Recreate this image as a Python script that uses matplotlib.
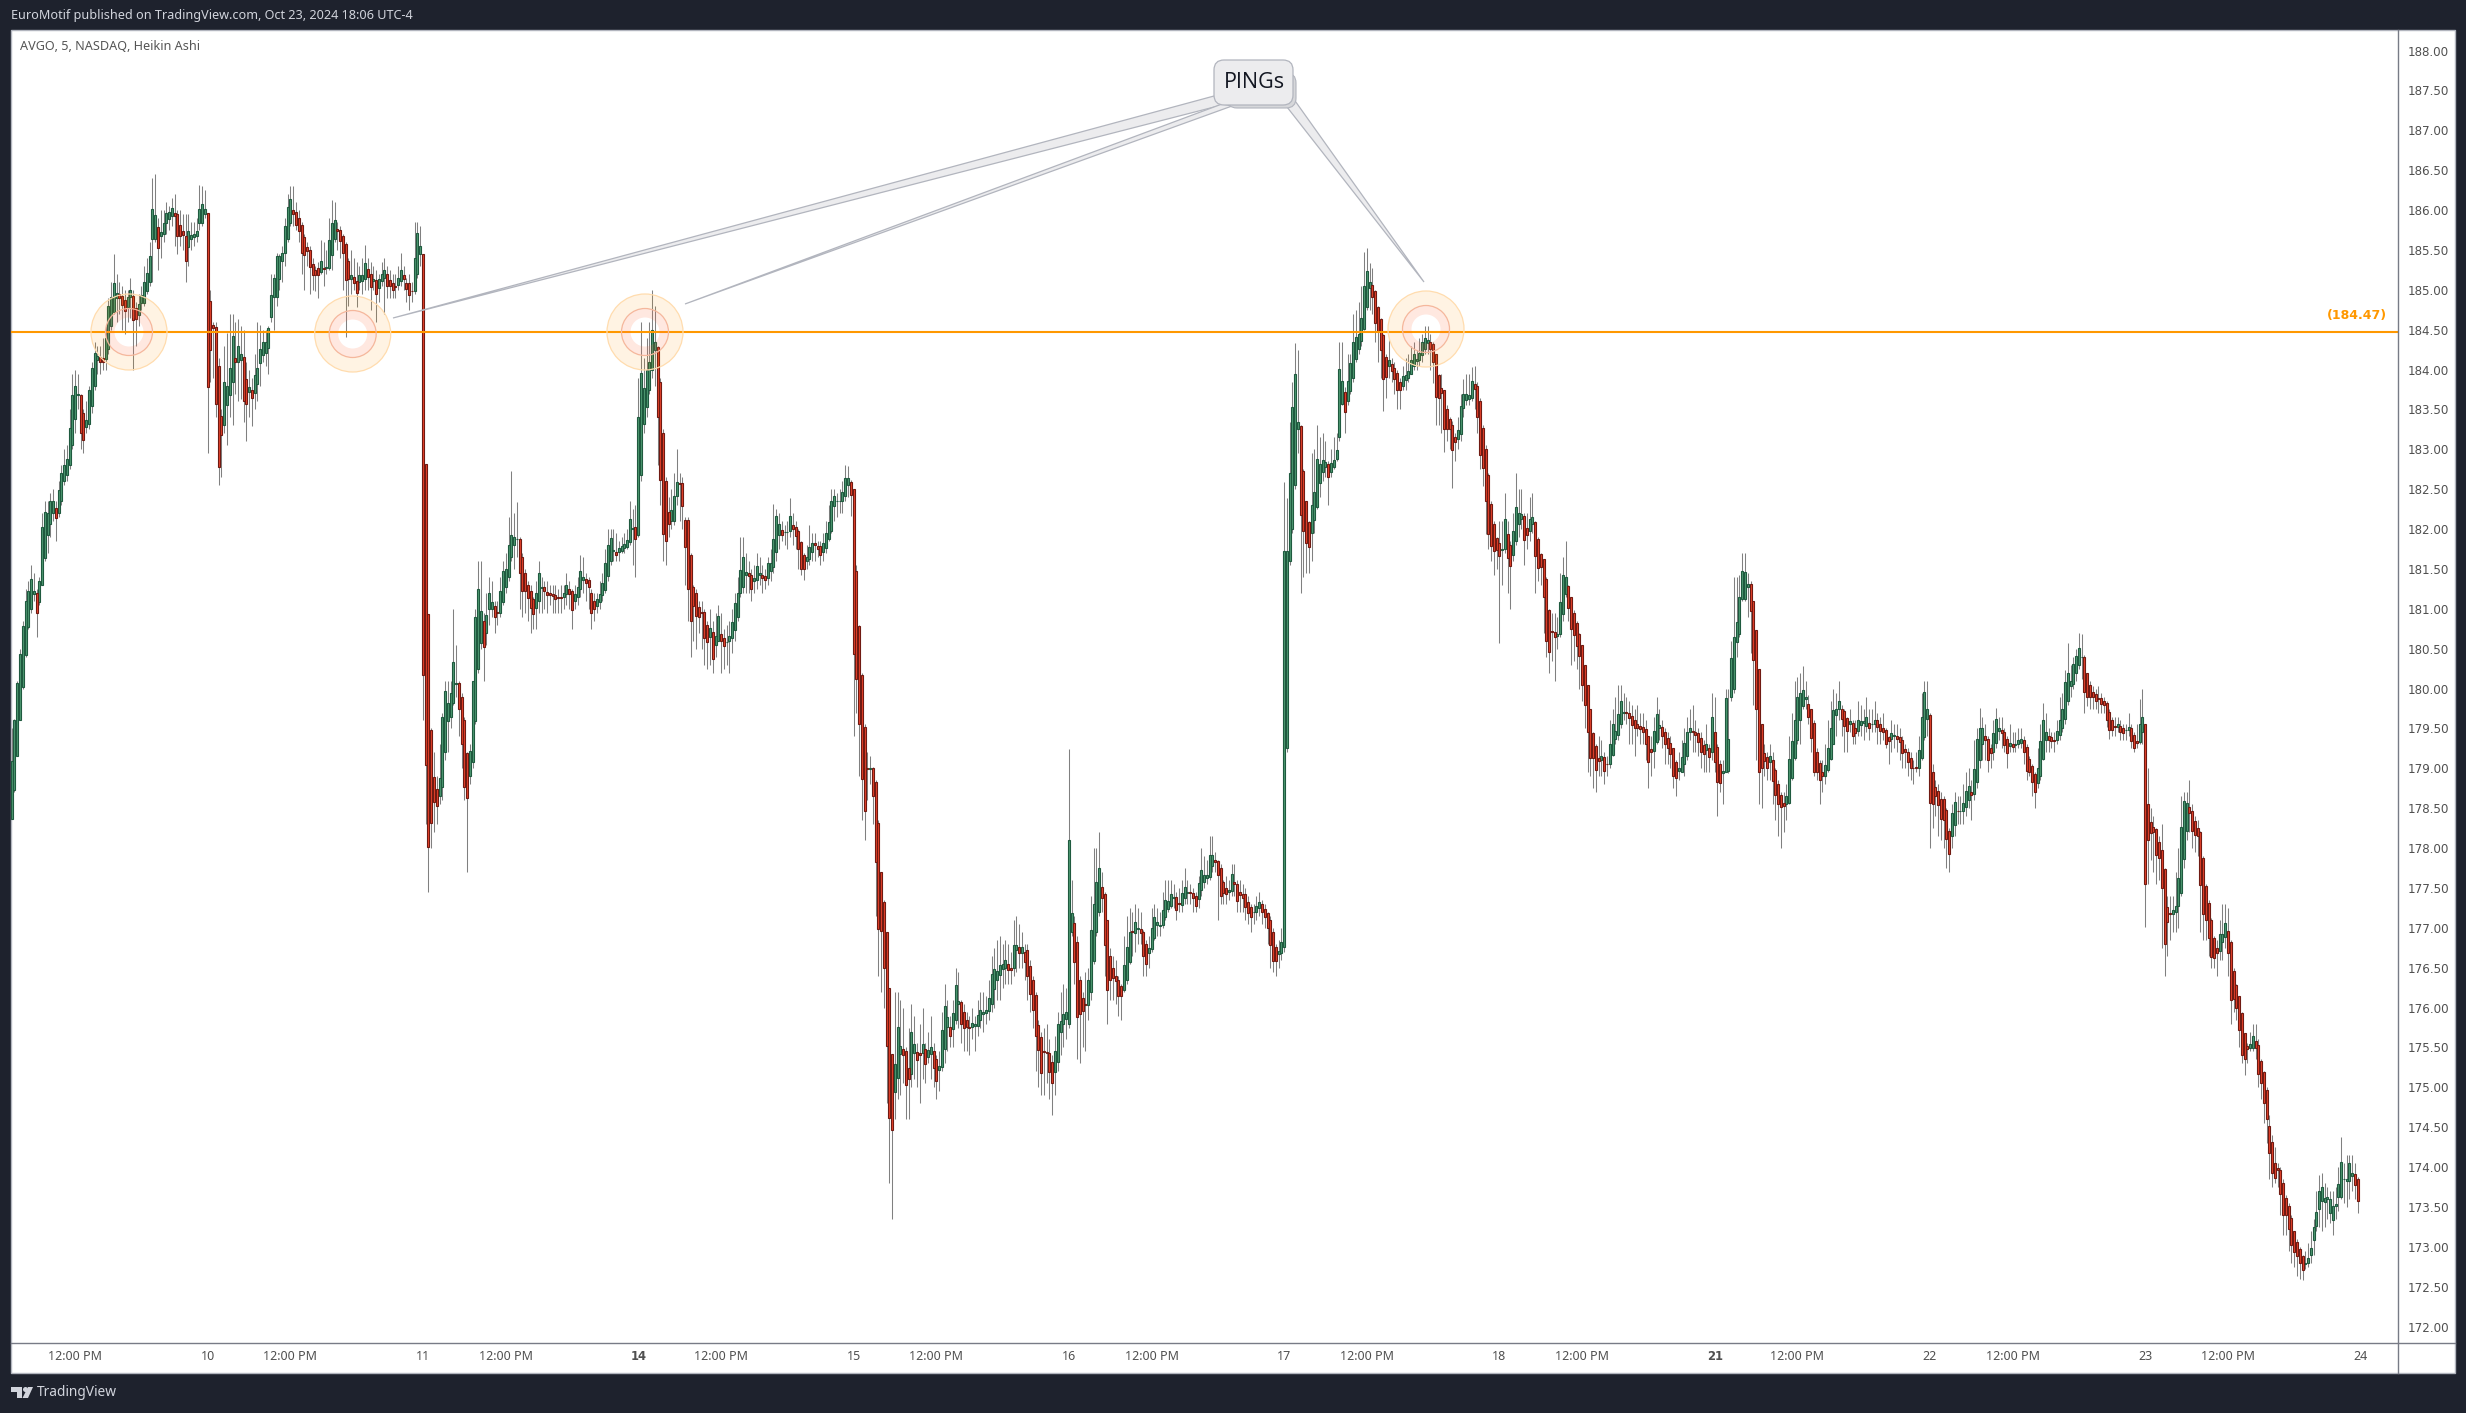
import numpy as np
import matplotlib
matplotlib.use('Agg')
import matplotlib.pyplot as plt
from matplotlib.patches import Circle, FancyBboxPatch, Polygon, Rectangle, Wedge

oct09 = [
    (178.36,179.09,179.51,178.36),(178.73,179.6,179.62,178.7),(179.16,180.07,180.1,179.15),(179.6,180.44,180.5,179.6),
    (180.02,180.79,180.85,180.0),(180.42,181.1,181.25,180.4),(180.77,181.23,181.35,180.75),(181.0,181.38,181.55,180.95),
    (181.19,181.23,181.45,181.1),(181.2,180.95,181.25,180.65),(181.08,181.35,181.4,181.05),(181.3,182.03,182.2,181.3),
    (181.64,182.21,182.35,181.6),(181.92,182.2,182.35,181.7),(182.07,182.35,182.45,181.9),(182.2,182.35,182.5,182.1),
    (182.27,182.14,182.35,181.85),(182.2,182.49,182.6,182.15),(182.35,182.7,182.8,182.3),(182.6,182.8,183.0,182.55),
    (182.68,182.88,183.05,182.6),(182.8,183.27,183.5,182.75),(183.05,183.68,183.95,183.0),(183.38,183.79,184.0,183.2),
    (183.68,183.7,183.95,183.5),(183.68,183.2,183.7,183.0),(183.45,183.12,183.5,182.95),(183.28,183.37,183.6,183.2),
    (183.32,183.74,183.8,183.25),(183.54,184.02,184.1,183.45),(183.8,184.21,184.35,183.75),(184.12,184.17,184.3,183.95),
    (184.16,184.1,184.3,183.95),(184.14,184.1,184.4,184.0),(184.13,184.39,184.55,184.0),(184.26,184.8,184.9,184.2),
    (184.55,184.91,185.1,184.5),(184.72,185.08,185.45,184.7),(184.9,184.96,185.2,184.6),(184.95,184.9,185.1,184.7),
    (184.92,184.81,185.05,184.5),(184.87,184.73,185.0,184.45),(184.79,184.91,185.0,184.6),(184.91,185.0,185.15,184.65),
    (184.92,184.62,185.0,183.99),(184.77,184.63,184.85,184.3),(184.69,184.82,184.95,184.55),(184.83,184.94,185.05,184.75),
    (184.83,185.1,185.3,184.8),(184.98,185.21,185.4,184.95),(185.1,185.43,185.6,185.05),(185.64,186.02,186.4,185.1),
    (185.64,185.94,186.45,185.6),(185.79,185.53,185.9,185.25),(185.67,185.72,186.0,185.4),(185.7,185.84,186.0,185.6),
    (185.84,185.96,186.1,185.7),(185.89,185.98,186.05,185.75),(185.92,186.03,186.15,185.8),(185.96,185.92,186.2,185.55),
    (185.95,185.67,186.0,185.45),(185.81,185.68,186.0,185.55),(185.74,185.69,185.95,185.5),(185.67,185.36,185.95,185.1),
    (185.54,185.74,185.95,185.3),(185.64,185.69,185.85,185.5),(185.66,185.7,185.85,185.55),(185.68,185.74,185.9,185.6),
    (185.84,186.02,186.32,185.75),(185.84,186.08,186.3,185.8),(185.95,186.02,186.25,185.9),
]
oct10 = [
    (185.96,183.78,185.96,182.95),(184.86,184.25,185.0,183.85),(184.56,184.52,184.6,183.9),(184.54,183.57,184.6,183.4),
    (184.04,182.78,184.15,182.55),(183.42,183.18,183.5,182.65),(183.3,183.85,184.3,183.2),(183.56,183.79,184.46,183.05),
    (183.68,184.02,184.7,183.4),(183.84,184.42,184.7,183.3),(184.14,184.09,184.6,183.7),(184.1,184.3,184.63,183.6),
    (184.12,184.2,184.55,183.63),(184.16,183.61,184.5,183.34),(183.88,183.57,184.1,183.1),(183.72,183.78,184.0,183.4),
    (183.75,183.65,183.9,183.29),(183.71,183.93,184.2,183.5),(183.82,184.02,184.6,183.6),(184.08,184.26,184.56,183.8),
    (184.18,184.34,184.5,184.1),(184.21,184.35,184.5,184.05),(184.27,184.52,184.55,183.95),(184.66,184.93,185.2,184.6),
    (184.91,185.15,185.2,184.5),(184.91,185.43,185.46,184.8),(185.14,185.43,185.45,185.0),(185.36,185.46,185.55,185.1),
    (185.46,185.8,185.9,185.3),(185.64,186.04,186.2,185.6),(185.84,186.14,186.3,185.8),(186.0,185.95,186.3,185.8),
    (185.98,185.81,186.1,185.75),(185.9,185.74,186.0,185.6),(185.81,185.46,185.85,185.2),(185.66,185.44,185.7,185.0),
    (185.54,185.49,185.6,185.3),(185.5,185.29,185.55,184.95),(185.33,185.18,185.4,185.0),(185.25,185.18,185.3,184.98),
    (185.28,185.19,185.35,184.9),(185.22,185.36,185.62,185.2),(185.28,185.26,185.6,185.05),(185.27,185.29,185.5,185.2),
    (185.28,185.62,185.9,185.25),(185.44,185.84,186.13,185.25),(185.64,185.88,186.1,185.6),(185.76,185.74,185.85,185.5),
    (185.75,185.61,185.8,185.4),(185.67,185.46,185.7,185.0),(185.57,185.12,185.6,184.41),(185.36,185.14,185.4,184.8),
    (185.14,185.19,185.5,184.95),(185.16,185.08,185.4,185.0),(185.11,184.96,185.35,184.78),(185.1,185.18,185.3,185.0),
    (185.11,185.19,185.4,184.95),(185.14,185.34,185.56,185.0),(185.26,185.16,185.4,185.0),(185.2,185.04,185.35,184.75),
    (185.11,185.14,185.3,185.0),(185.12,184.95,185.25,184.6),(185.02,185.14,185.2,184.85),(185.11,185.2,185.35,185.05),
    (185.15,185.25,185.4,184.7),(185.2,185.05,185.3,184.9),(185.12,185.05,185.25,184.9),(185.09,185.0,185.2,184.9),
    (185.05,185.03,185.2,184.9),(185.06,185.15,185.3,185.0),(185.11,185.25,185.46,185.05),(185.18,185.14,185.3,185.0),
    (185.09,185.01,185.15,184.85),(185.09,184.93,185.2,184.75),(184.99,184.98,185.1,184.85),(184.99,185.4,185.85,184.95),
    (185.2,185.71,185.85,185.15),(185.45,185.55,185.8,185.3),
]
oct11 = [
    (185.45,180.17,185.45,179.6),(182.82,179.04,182.82,178.3),(180.93,178.02,180.93,177.45),(179.48,178.31,179.5,178.0),
    (178.89,178.58,179.2,178.2),(178.74,178.53,178.9,178.3),(178.65,178.88,179.3,178.55),(178.77,179.64,179.7,178.6),
    (179.2,179.97,180.1,179.1),(179.59,179.82,180.1,179.2),(179.64,179.95,180.1,179.5),(179.82,180.33,181.0,179.8),
    (180.06,180.07,180.55,179.9),(180.07,179.75,180.1,179.4),(179.9,179.3,179.95,179.0),(179.6,178.77,179.65,178.6),
    (179.19,178.63,179.2,177.7),(178.9,179.22,179.3,178.8),(179.08,180.1,180.1,179.0),(179.59,180.9,181.0,179.55),
    (180.24,181.25,181.6,180.2),(180.57,180.97,181.6,180.5),(180.85,180.52,180.95,180.1),(180.7,180.92,181.2,180.55),
    (181.0,181.2,181.4,180.8),(181.0,181.08,181.35,180.9),(181.04,180.9,181.1,180.7),(180.96,180.95,181.1,180.8),
    (180.95,181.23,181.4,180.9),(181.08,181.48,181.6,181.05),(181.27,181.5,181.7,181.2),(181.4,181.8,182.15,181.35),
    (181.65,181.92,182.73,181.6),(181.8,181.9,182.2,181.5),(181.87,181.88,182.34,181.65),(181.87,181.45,181.9,181.0),
    (181.65,181.23,181.7,180.9),(181.45,181.23,181.5,180.95),(181.3,181.14,181.35,180.85),(181.23,181.01,181.3,180.7),
    (181.12,180.94,181.15,180.75),(181.01,181.2,181.35,180.75),(181.1,181.45,181.6,180.95),(181.26,181.28,181.4,180.95),
    (181.28,181.23,181.35,181.0),(181.21,181.17,181.35,180.95),(181.2,181.17,181.3,181.05),(181.19,181.16,181.3,180.95),
    (181.17,181.12,181.3,180.95),(181.15,181.14,181.25,180.95),(181.15,181.13,181.3,180.95),(181.15,181.2,181.3,181.0),
    (181.19,181.3,181.45,181.05),(181.25,181.19,181.35,181.0),(181.22,180.99,181.25,180.75),(181.1,181.18,181.3,181.0),
    (181.15,181.27,181.4,181.05),(181.25,181.47,181.67,181.15),(181.36,181.4,181.65,181.2),(181.38,181.32,181.45,181.1),
    (181.36,181.27,181.4,181.0),(181.2,180.95,181.25,180.75),(181.1,181.0,181.2,180.85),(181.04,181.12,181.2,180.95),
    (181.08,181.18,181.35,181.0),(181.17,181.33,181.45,181.1),(181.24,181.57,181.75,181.2),(181.41,181.8,182.0,181.35),
    (181.6,181.89,182.0,181.55),(181.73,181.74,182.0,181.6),(181.71,181.67,181.95,181.6),(181.71,181.76,181.85,181.6),
    (181.73,181.79,181.9,181.7),(181.76,181.81,181.95,181.7),(181.78,181.86,182.0,181.75),(181.84,182.13,182.35,181.8),
    (182.0,182.02,182.25,181.55),(182.03,181.88,182.3,181.4),
]
oct14 = [
    (181.93,183.41,183.9,181.9),(182.68,183.96,184.6,182.6),(183.32,183.77,184.15,183.2),(183.53,184.0,184.4,183.4),
    (183.75,184.1,184.6,183.7),(184.0,184.5,185.0,183.9),(184.25,184.34,184.8,183.8),(184.28,183.41,184.3,182.8),
    (183.85,182.62,183.9,182.3),(183.2,181.94,183.25,181.6),(182.6,181.85,182.65,181.55),(182.22,182.06,182.4,181.9),
    (182.1,182.24,182.5,182.0),(182.1,182.42,182.7,182.05),(182.42,182.59,183.0,182.3),(182.58,182.57,182.7,182.1),
    (182.58,182.29,182.65,182.0),(182.12,181.78,182.15,181.3),(182.12,181.25,182.15,180.85),(181.68,180.85,181.7,180.4),
    (181.28,181.04,181.3,180.6),(181.2,180.91,181.25,180.5),(181.02,180.9,181.1,180.7),(180.96,180.95,181.1,180.5),
    (180.96,180.63,181.0,180.3),(180.8,180.58,180.85,180.25),(180.65,180.76,181.0,180.3),(180.71,180.37,180.85,180.2),
    (180.55,180.66,180.95,180.4),(180.6,180.91,181.05,180.6),(180.68,180.6,180.95,180.2),(180.64,180.53,180.75,180.25),
    (180.58,180.58,180.8,180.3),(180.6,180.66,180.85,180.2),(180.64,180.83,181.0,180.45),(180.74,181.07,181.2,180.6),
    (180.9,181.2,181.4,180.85),(181.2,181.49,181.9,181.15),(181.27,181.65,181.9,181.2),(181.43,181.46,181.7,181.2),
    (181.45,181.41,181.6,181.2),(181.43,181.25,181.5,181.1),(181.35,181.39,181.55,181.2),(181.36,181.54,181.7,181.25),
    (181.43,181.45,181.65,181.3),(181.43,181.39,181.55,181.2),(181.41,181.36,181.5,181.25),(181.39,181.57,181.65,181.3),
    (181.47,181.57,181.75,181.35),(181.52,181.87,182.32,181.45),(181.71,182.16,182.25,181.6),(181.93,182.07,182.2,181.75),
    (181.99,181.93,182.1,181.85),(181.96,181.96,182.05,181.8),(181.96,181.96,182.1,181.75),(181.97,182.16,182.39,181.9),
    (182.05,182.0,182.2,181.8),(182.03,181.91,182.1,181.75),(181.97,181.75,182.0,181.5),(181.84,181.5,181.85,181.43),
    (181.67,181.5,181.7,181.36),(181.6,181.65,181.8,181.5),(181.62,181.78,182.05,181.55),(181.71,181.82,181.95,181.6),
    (181.82,181.8,181.95,181.6),(181.79,181.75,181.85,181.65),(181.79,181.68,181.85,181.55),(181.71,181.82,181.95,181.6),
    (181.76,181.95,182.1,181.7),(181.87,182.09,182.3,181.85),(181.97,182.35,182.5,181.95),(182.29,182.42,182.5,182.1),
    (182.35,182.35,182.45,182.15),(182.35,182.35,182.5,182.2),(182.35,182.46,182.6,182.2),(182.41,182.64,182.8,182.35),
    (182.55,182.64,182.79,182.4),(182.59,182.43,182.62,182.16),
]
oct15 = [
    (182.5,180.44,182.5,179.4),(181.47,180.12,181.55,179.7),(180.79,179.55,180.8,178.9),(180.17,178.87,180.2,178.35),
    (179.52,178.47,179.55,178.1),(179.0,178.99,179.2,178.6),(178.99,179.0,179.15,178.8),(179.0,178.65,179.02,178.3),
    (178.83,177.82,178.85,177.15),(178.32,176.99,178.35,176.4),(177.7,176.96,177.7,176.2),(177.32,176.5,177.35,176.0),
    (176.95,175.52,176.95,174.8),(176.24,174.62,176.25,173.8),(175.42,174.46,175.42,173.35),(174.94,175.29,176.2,174.6),
    (175.12,175.76,176.2,174.85),(175.42,175.52,176.1,174.9),(175.48,175.4,176.0,175.05),(175.45,175.03,175.5,174.6),
    (175.24,175.1,175.75,174.6),(175.17,175.69,176.05,175.0),(175.43,175.54,175.9,175.1),(175.44,175.34,175.55,175.0),
    (175.43,175.41,175.8,174.8),(175.43,175.54,176.0,175.1),(175.48,175.29,175.55,175.05),(175.38,175.47,175.7,175.3),
    (175.42,175.5,175.9,175.1),(175.46,175.24,175.55,175.0),(175.35,175.08,175.4,174.85),(175.22,175.27,175.45,174.95),
    (175.25,175.72,175.95,175.2),(175.48,176.02,176.3,175.3),(175.76,175.88,176.1,175.45),(175.76,175.64,175.9,175.5),
    (175.73,175.93,176.1,175.5),(175.85,176.28,176.5,175.8),(176.05,176.08,176.45,175.75),(176.07,175.79,176.1,175.55),
    (175.94,175.75,176.05,175.45),(175.85,175.76,175.95,175.45),(175.76,175.75,175.9,175.4),(175.76,175.81,176.0,175.6),
    (175.77,175.79,175.9,175.45),(175.77,175.91,176.1,175.65),(175.85,175.97,176.2,175.75),(175.92,175.94,176.2,175.7),
    (175.93,175.97,176.15,175.8),(175.96,176.12,176.35,175.85),(176.04,176.42,176.65,175.95),(176.23,176.48,176.75,176.0),
    (176.35,176.46,176.85,176.1),(176.41,176.54,176.9,176.1),(176.48,176.55,176.8,176.25),(176.5,176.6,176.85,176.3),
    (176.55,176.47,176.8,176.3),(176.5,176.47,176.7,176.3),(176.5,176.79,177.1,176.4),(176.72,176.79,177.15,176.45),
    (176.76,176.68,177.05,176.5),(176.68,176.76,176.95,176.5),(176.7,176.57,176.8,176.35),(176.72,176.39,176.8,176.1),
    (176.52,176.17,176.6,175.95),(176.34,175.97,176.4,175.75),(176.16,175.64,176.2,175.2),(175.78,175.47,175.85,175.0),
    (175.63,175.18,175.7,174.9),(175.45,175.44,175.75,174.9),(175.44,175.43,175.8,175.05),(175.43,175.19,175.6,174.85),
    (175.32,175.05,175.4,174.65),(175.19,175.46,175.65,174.9),(175.32,175.8,175.95,175.2),(175.69,175.83,176.2,175.4),
    (175.8,175.92,176.3,175.5),(175.86,175.95,176.25,175.6),
]
oct16 = [
    (175.8,178.1,179.24,175.75),(176.95,177.18,177.6,176.9),(177.06,176.57,177.15,176.3),(176.82,175.88,176.9,175.35),
    (176.34,175.92,176.4,175.3),(176.12,175.96,176.2,175.5),(176.04,176.03,176.45,175.45),(176.03,176.34,176.5,175.85),
    (176.2,176.97,177.4,176.1),(176.59,177.3,178.0,176.55),(176.95,177.57,178.0,176.9),(177.2,177.75,178.2,177.15),
    (177.51,177.37,177.7,177.2),(177.43,176.78,177.45,176.4),(177.1,176.22,177.1,175.8),(176.65,176.35,176.75,176.1),
    (176.5,176.37,176.65,176.1),(176.4,176.33,176.6,176.05),(176.35,176.15,176.4,175.9),(176.27,176.15,176.3,175.85),
    (176.22,176.53,176.9,176.2),(176.35,176.76,177.15,176.3),(176.57,176.95,177.25,176.55),(176.96,176.95,177.2,176.65),
    (176.93,177.07,177.3,176.7),(176.99,177.0,177.25,176.8),(176.98,176.93,177.2,176.8),(176.95,176.65,176.97,176.4),
    (176.8,176.55,176.85,176.4),(176.68,176.75,176.9,176.5),(176.73,177.0,177.25,176.7),(176.87,177.14,177.3,176.85),
    (177.03,177.07,177.25,176.9),(177.02,177.03,177.2,176.9),(177.03,177.23,177.45,177.0),(177.14,177.35,177.6,177.1),
    (177.24,177.34,177.6,177.2),(177.28,177.42,177.6,177.25),(177.38,177.39,177.55,177.25),(177.39,177.23,177.45,177.1),
    (177.31,177.3,177.5,177.2),(177.29,177.44,177.6,177.2),(177.37,177.51,177.75,177.3),(177.44,177.45,177.6,177.3),
    (177.45,177.44,177.55,177.3),(177.44,177.37,177.5,177.2),(177.4,177.28,177.45,177.2),(177.36,177.56,177.65,177.25),
    (177.47,177.72,178.0,177.4),(177.58,177.66,177.9,177.5),(177.62,177.66,177.85,177.55),(177.64,177.91,178.15,177.6),
    (177.78,177.91,178.15,177.7),(177.85,177.82,177.95,177.7),(177.84,177.66,177.85,177.1),(177.75,177.4,177.8,177.3),
    (177.57,177.44,177.6,177.3),(177.5,177.43,177.65,177.3),(177.45,177.47,177.6,177.35),(177.46,177.67,177.8,177.4),
    (177.57,177.55,177.8,177.4),(177.55,177.34,177.6,177.2),(177.45,177.41,177.6,177.2),(177.43,177.37,177.55,177.2),
    (177.42,177.26,177.5,177.1),(177.32,177.19,177.4,177.05),(177.26,177.13,177.3,176.95),(177.2,177.2,177.3,177.05),
    (177.2,177.28,177.4,177.1),(177.25,177.32,177.45,177.15),(177.3,177.2,177.35,177.05),(177.24,177.14,177.3,177.0),
    (177.19,177.0,177.2,176.8),(177.1,176.79,177.15,176.5),(176.95,176.58,177.0,176.45),(176.76,176.58,176.8,176.4),
    (176.67,176.71,176.85,176.5),(176.69,176.82,177.0,176.6),
]
oct17 = [
    (176.76,181.72,182.59,176.7),(179.25,181.73,182.39,179.2),(181.6,182.7,183.34,181.55),(182.0,183.53,183.85,181.95),
    (182.55,183.94,184.33,182.5),(183.25,183.34,184.24,182.95),(183.29,182.18,183.3,181.2),(182.73,181.97,182.75,181.4),
    (182.35,181.83,182.35,181.45),(182.09,181.78,182.1,181.45),(181.95,182.3,182.95,181.6),(182.12,182.46,183.0,181.95),
    (182.28,182.88,183.3,182.25),(182.58,182.82,183.15,182.4),(182.71,182.87,183.2,182.6),(182.78,182.84,183.1,182.65),
    (182.82,182.65,182.85,182.3),(182.72,182.83,183.0,182.65),(182.78,182.87,183.15,182.75),(182.88,182.99,183.2,182.85),
    (183.15,184.01,184.35,183.1),(183.57,183.86,184.35,183.55),(183.72,183.47,183.78,183.2),(183.6,183.86,184.2,183.55),
    (183.73,184.08,184.2,183.7),(183.9,184.35,184.7,183.85),(184.13,184.41,184.75,184.1),(184.26,184.45,184.85,184.2),
    (184.36,184.65,185.05,184.3),(184.51,185.05,185.47,184.5),(184.78,185.24,185.52,184.75),(185.02,185.1,185.34,184.75),
    (185.06,184.91,185.27,184.7),(184.99,184.59,185.0,184.35),(184.79,184.49,184.8,184.1),(184.64,184.25,184.65,183.9),
    (184.44,183.88,184.45,183.48),(184.16,183.91,184.2,183.65),(184.04,184.12,184.38,183.9),(184.07,183.98,184.15,183.85),
    (184.02,183.88,184.1,183.7),(183.96,183.75,184.0,183.51),(183.85,183.74,183.9,183.51),(183.8,183.92,184.05,183.75),
    (183.87,183.93,184.15,183.75),(183.9,183.98,184.2,183.85),(183.94,184.12,184.3,183.95),(184.04,184.2,184.35,184.0),
    (184.11,184.13,184.25,184.0),(184.12,184.21,184.4,184.05),(184.18,184.34,184.45,184.1),(184.26,184.4,184.55,184.2),
    (184.33,184.37,184.55,184.2),(184.35,184.26,184.45,184.0),(184.32,184.09,184.35,183.83),(184.2,183.66,184.2,183.3),
    (183.93,183.64,183.95,183.3),(183.77,183.71,183.95,183.2),(183.75,183.25,183.75,182.97),(183.5,183.26,183.55,183.1),
    (183.38,183.25,183.4,183.0),(183.31,182.99,183.35,182.52),(183.15,183.09,183.2,182.85),(183.13,183.24,183.4,183.0),
    (183.19,183.54,183.7,183.1),(183.52,183.69,183.88,183.4),(183.62,183.69,183.95,183.55),(183.63,183.68,183.95,183.55),
    (183.65,183.86,184.03,183.6),(183.82,183.76,184.05,183.5),(183.79,183.41,183.85,183.2),(183.6,182.93,183.65,182.75),
    (183.27,182.76,183.3,182.54),(183.01,182.35,183.05,181.94),(182.68,181.94,182.7,181.75),(182.32,181.79,182.35,181.6),
    (182.06,181.73,182.1,181.43),(181.89,181.74,181.9,181.5),
]
oct18 = [
    (181.82,181.66,182.1,180.57),(181.74,181.75,182.1,181.3),(181.75,182.13,182.45,181.7),(181.94,181.64,182.1,181.2),
    (181.8,181.54,181.85,181.0),(181.67,181.97,182.2,181.6),(181.85,182.28,182.7,181.8),(182.07,182.2,182.5,181.9),
    (182.13,182.19,182.5,182.0),(182.17,181.86,182.2,181.55),(182.02,181.93,182.2,181.75),(181.97,182.13,182.4,181.85),
    (182.06,182.15,182.45,181.95),(182.09,181.66,182.1,181.2),(181.88,181.51,181.9,181.35),(181.69,181.53,181.7,181.3),
    (181.62,181.15,181.6,180.7),(181.38,180.6,181.4,180.4),(180.99,180.46,181.0,180.2),(180.72,180.71,180.95,180.35),
    (180.71,180.65,180.95,180.1),(180.66,180.69,180.9,180.5),(180.69,181.09,181.45,180.65),(180.94,181.42,181.65,180.85),
    (181.18,181.4,181.85,181.15),(181.29,181.01,181.3,180.85),(181.15,180.75,181.15,180.3),(180.95,180.67,180.98,180.35),
    (180.82,180.53,180.85,180.25),(180.69,180.41,180.7,180.0),(180.55,180.05,180.55,179.85),(180.3,179.8,180.3,179.5),
    (180.05,179.45,180.05,178.95),(179.75,179.13,179.75,178.9),(179.44,179.13,179.45,178.75),(179.28,178.98,179.3,178.7),
    (179.13,179.09,179.4,178.9),(179.1,179.16,179.35,178.9),(179.14,178.97,179.2,178.8),(179.06,179.05,179.15,178.9),
    (179.05,179.31,179.6,179.0),(179.17,179.56,179.75,179.15),(179.37,179.47,179.9,179.3),(179.42,179.68,180.05,179.35),
    (179.55,179.85,180.05,179.5),(179.7,179.71,179.95,179.6),(179.71,179.69,179.9,179.55),(179.69,179.63,179.85,179.3),
    (179.66,179.54,179.8,179.3),(179.6,179.51,179.75,179.15),(179.56,179.5,179.8,179.4),(179.53,179.49,179.7,179.3),
    (179.52,179.46,179.7,179.3),(179.49,179.3,179.6,179.1),(179.4,179.08,179.4,178.75),(179.24,179.2,179.4,178.9),
    (179.22,179.47,179.65,179.0),(179.33,179.68,179.9,179.3),(179.5,179.54,179.75,179.35),(179.52,179.41,179.6,179.25),
    (179.46,179.3,179.5,179.05),(179.38,179.26,179.45,179.05),(179.32,179.18,179.4,179.0),(179.25,178.9,179.25,178.75),
    (179.08,178.88,179.1,178.65),(178.97,179.0,179.2,178.85),(178.95,179.14,179.35,178.95),(179.05,179.32,179.5,178.9),
    (179.15,179.45,179.65,179.1),(179.45,179.5,179.75,179.35),(179.47,179.46,179.8,179.2),(179.46,179.42,179.6,179.2),
    (179.44,179.33,179.5,179.15),(179.38,179.2,179.45,179.0),(179.29,179.18,179.35,178.95),(179.23,179.3,179.55,178.95),
    (179.25,179.14,179.3,178.95),(179.2,179.65,179.95,179.1),
]
oct21 = [
    (179.46,179.08,179.9,178.95),(179.27,178.83,179.3,178.4),(179.05,178.82,179.1,178.7),(178.94,178.97,179.1,178.55),
    (178.96,179.88,180.0,178.95),(178.97,179.37,180.0,178.94),(179.9,180.38,180.6,179.85),(179.99,180.65,181.4,179.95),
    (180.59,180.84,181.4,180.4),(180.68,181.15,181.42,180.65),(181.12,181.47,181.7,181.1),(181.12,181.46,181.7,181.1),
    (181.28,181.31,181.45,180.9),(181.31,180.97,181.35,180.45),(181.1,180.36,181.1,179.8),(180.73,179.75,180.73,179.1),
    (180.25,178.95,180.25,178.55),(179.55,179.0,179.55,178.5),(179.19,179.09,179.3,178.9),(179.14,179.0,179.2,178.85),
    (179.08,179.15,179.3,178.85),(179.11,178.84,179.2,178.55),(178.98,178.67,179.0,178.35),(178.81,178.55,178.85,178.15),
    (178.67,178.51,178.7,178.0),(178.57,178.53,178.7,178.2),(178.55,178.65,178.8,178.35),(178.56,179.12,179.4,178.55),
    (178.88,179.34,179.7,178.85),(179.13,179.6,180.1,179.1),(179.36,179.9,180.15,179.3),(179.6,179.94,180.2,179.3),
    (179.78,179.98,180.28,179.75),(179.87,179.9,180.1,179.75),(179.81,179.65,179.92,179.55),(179.74,179.38,179.75,179.2),
    (179.57,178.95,179.6,178.9),(179.2,178.95,179.25,178.85),(179.07,178.85,179.1,178.55),(178.95,178.91,179.1,178.7),
    (178.91,179.04,179.3,178.8),(178.98,179.26,179.6,178.95),(179.12,179.5,179.85,179.1),(179.31,179.73,180.0,179.3),
    (179.67,179.74,179.95,179.4),(179.74,179.84,180.1,179.6),(179.74,179.62,179.8,179.4),(179.72,179.53,179.75,179.2),
    (179.63,179.47,179.65,179.2),(179.55,179.59,179.75,179.45),(179.57,179.41,179.6,179.3),(179.5,179.44,179.6,179.3),
    (179.47,179.6,179.85,179.4),(179.54,179.59,179.8,179.4),(179.57,179.59,179.75,179.35),(179.53,179.64,179.9,179.45),
    (179.57,179.51,179.75,179.35),(179.55,179.56,179.75,179.45),(179.55,179.6,179.85,179.45),(179.6,179.52,179.7,179.3),
    (179.55,179.47,179.65,179.3),(179.51,179.45,179.7,179.35),(179.48,179.31,179.5,179.25),(179.39,179.34,179.4,179.05),
    (179.37,179.44,179.6,179.2),(179.4,179.42,179.55,179.25),(179.41,179.37,179.55,179.2),(179.39,179.33,179.5,179.1),
    (179.36,179.19,179.4,179.0),(179.24,179.2,179.3,179.0),(179.2,179.08,179.25,178.9),(179.13,179.0,179.2,178.85),
    (179.01,179.0,179.1,178.8),(179.02,179.01,179.2,178.95),(179.0,179.23,179.4,178.9),(179.13,179.65,179.95,179.1),
    (179.39,179.96,180.1,179.35),(179.62,179.75,180.1,179.4),
]
oct22 = [
    (179.67,178.57,179.7,178.0),(178.96,178.55,179.05,178.25),(178.76,178.65,178.85,178.4),(178.71,178.54,178.8,178.15),
    (178.62,178.36,178.7,178.1),(178.61,178.35,178.65,178.0),(178.48,178.11,178.5,177.75),(178.21,177.92,178.25,177.7),
    (178.15,178.44,178.55,178.0),(178.29,178.58,178.7,178.15),(178.47,178.46,178.65,178.3),(178.46,178.46,178.65,178.3),
    (178.46,178.57,178.8,178.3),(178.52,178.71,178.95,178.4),(178.6,178.78,179.0,178.5),(178.7,178.67,178.85,178.35),
    (178.68,178.99,179.35,178.6),(178.83,179.37,179.5,178.75),(179.11,179.51,179.76,179.0),(179.31,179.51,179.65,179.1),
    (179.41,179.35,179.55,179.1),(179.37,179.11,179.4,178.95),(179.25,179.19,179.3,179.0),(179.21,179.44,179.6,179.1),
    (179.32,179.62,179.76,179.25),(179.47,179.5,179.65,179.35),(179.48,179.44,179.65,179.25),(179.46,179.29,179.5,179.2),
    (179.37,179.19,179.4,179.01),(179.28,179.32,179.55,179.2),(179.3,179.27,179.45,179.2),(179.29,179.31,179.45,179.2),
    (179.3,179.35,179.5,179.25),(179.32,179.37,179.5,179.25),(179.35,179.2,179.4,179.05),(179.27,178.97,179.3,178.85),
    (179.12,178.96,179.15,178.9),(179.03,178.83,179.05,178.65),(178.93,178.7,178.95,178.5),(178.82,179.0,179.25,178.75),
    (178.91,179.34,179.55,178.85),(179.12,179.6,179.82,179.1),(179.36,179.46,179.7,179.2),(179.41,179.35,179.5,179.2),
    (179.39,179.34,179.45,179.25),(179.36,179.34,179.45,179.2),(179.35,179.47,179.6,179.3),(179.42,179.6,179.9,179.35),
    (179.5,179.75,179.95,179.45),(179.62,180.08,180.23,179.55),(179.85,180.19,180.57,179.8),(180.03,180.1,180.3,179.9),
    (180.06,180.31,180.4,180.0),(180.19,180.41,180.5,180.1),(180.3,180.51,180.7,180.25),(180.4,180.4,180.68,180.12),
    (180.4,179.96,180.42,179.69),(180.19,179.89,180.2,179.78),(180.04,179.89,180.1,179.75),(179.96,179.89,180.03,179.75),
    (179.93,179.84,180.0,179.75),(179.88,179.87,180.03,179.7),(179.88,179.81,179.95,179.7),(179.85,179.8,179.9,179.7),
    (179.82,179.61,179.85,179.52),(179.71,179.48,179.75,179.37),(179.6,179.48,179.65,179.4),(179.53,179.52,179.65,179.4),
    (179.52,179.56,179.65,179.45),(179.53,179.46,179.6,179.35),(179.5,179.44,179.55,179.35),(179.48,179.48,179.55,179.35),
    (179.48,179.52,179.69,179.4),(179.5,179.34,179.55,179.25),(179.42,179.26,179.45,179.2),(179.34,179.32,179.55,179.25),
    (179.33,179.56,179.87,179.3),(179.45,179.64,180.0,179.3),
]
oct23 = [
    (179.55,177.55,179.55,177.01),(178.55,178.1,179.0,177.55),(178.33,178.19,178.5,177.85),(178.26,178.2,178.4,177.7),
    (178.24,177.91,178.25,177.55),(178.08,177.87,178.15,177.6),(177.98,177.5,178.3,176.75),(177.74,176.8,177.75,176.4),
    (177.26,177.07,177.4,176.65),(177.18,177.17,177.4,176.85),(177.17,177.23,177.4,176.95),(177.2,177.27,177.7,176.95),
    (177.27,177.63,178.0,177.0),(177.44,178.27,178.65,177.4),(177.86,178.59,178.7,177.75),(178.22,178.57,178.7,178.1),
    (178.51,178.44,178.85,178.2),(178.47,178.22,178.55,178.0),(178.34,178.16,178.4,177.95),(178.25,178.15,178.35,177.9),
    (178.2,177.54,178.22,176.95),(177.88,177.17,177.9,176.85),(177.52,177.1,177.55,176.85),(177.31,176.87,177.35,176.65),
    (177.1,176.64,177.12,176.5),(176.87,176.62,176.9,176.5),(176.75,176.69,176.85,176.4),(176.71,176.92,177.1,176.6),
    (176.82,176.92,177.3,176.6),(176.88,177.06,177.3,176.75),(176.96,176.69,177.25,176.4),(176.82,176.1,176.85,175.8),
    (176.46,176.11,176.5,175.95),(176.28,176.0,176.3,175.85),(176.14,175.72,176.15,175.5),
    (175.93,175.41,175.95,175.3),(175.68,175.36,175.68,175.15),
    (175.52,175.48,175.55,175.3),(175.49,175.54,175.7,175.45),(175.49,175.65,175.8,175.45),(175.58,175.49,175.8,175.35),
    (175.53,175.17,175.6,175.0),(175.33,175.05,175.35,174.85),(175.19,174.81,175.2,174.55),(174.97,174.6,175.0,174.3),
    (174.51,174.18,174.65,173.85),(174.31,173.93,174.4,173.75),(174.05,173.86,174.25,173.8),(173.99,173.96,174.05,173.75),
    (173.96,173.66,174.0,173.4),(173.8,173.4,173.85,173.15),(173.61,173.4,173.65,173.15),(173.51,173.22,173.55,172.95),
    (173.36,173.02,173.4,172.8),(173.2,172.94,173.2,172.75),(173.06,172.88,173.1,172.63),(172.97,172.8,173.0,172.6),
    (172.88,172.71,172.9,172.58),(172.79,172.8,172.95,172.72),(172.8,172.86,173.05,172.75),(172.9,172.99,173.2,172.8),
    (173.09,173.25,173.35,172.9),(173.26,173.44,173.7,173.2),(173.47,173.7,173.9,173.25),(173.57,173.75,173.93,173.2),
    (173.56,173.61,173.8,173.25),(173.6,173.63,173.75,173.35),(173.43,173.6,173.7,173.3),(173.34,173.51,173.7,173.15),
    (173.51,173.54,173.75,173.35),(173.63,173.79,174.0,173.45),(173.63,174.06,174.38,173.6),(173.85,173.85,174.05,173.55),
    (173.83,173.85,174.15,173.5),(173.83,174.05,174.15,173.6),(173.89,173.93,174.15,173.7),(173.91,173.77,174.05,173.6),
    (173.85,173.57,173.87,173.42),
]
days = [oct09, oct10, oct11, oct14, oct15, oct16, oct17, oct18, oct21, oct22, oct23]
day_labels = ['', '10', '11', '14', '15', '16', '17', '18', '21', '22', '23', '24']
bold_days = ['14', '21']
bars_per_day = 78
first_bar = [7, 0, 0, 0, 0, 0, 0, 0, 0, 0, 0]

line_price = 184.47
price_ticks = [172 + 0.5 * k for k in range(33)]

idx, rows = [], []
for d, day in enumerate(days):
    for k, row in enumerate(day):
        idx.append(d * bars_per_day + first_bar[d] + k)
        rows.append(row)
idx = np.array(idx)
rows = np.array(rows)
opens, closes, highs, lows = rows.T

# pixel layout of the panels
W, H = 2466, 1413
px_left, px_right, px_top, px_bot = 11, 2398, 30, 1343
bar_step = 2.76
x_zero = -7.6
small_font = 'Noto Sans'

fig = plt.figure(figsize=(W / 100, H / 100), dpi=100, facecolor='#1e222d')

back = fig.add_axes([0, 0, 1, 1], zorder=0)
back.set_xlim(0, W)
back.set_ylim(H, 0)
back.axis('off')
back.add_patch(Rectangle((px_left, px_top), 2455 - px_left, 1373 - px_top, fc='white', ec='#b2b5be', lw=1))

ax = fig.add_axes([px_left / W, 1 - px_bot / H, (px_right - px_left) / W, (px_bot - px_top) / H], zorder=1)
ax.patch.set_alpha(0)
ax.set_xlim((px_left - x_zero) / bar_step, (px_right - x_zero) / bar_step)
ax.set_ylim(172 - (px_bot - 1326.6) / 79.75, 172 + (1326.6 - px_top) / 79.75)

up = closes >= opens
ax.vlines(idx, lows, highs, color='#808080', lw=0.75, zorder=2)
ax.bar(idx[up], (closes - opens)[up], bottom=opens[up], width=0.72, color='#4f9a72', edgecolor='#1f5a3f', lw=0.8, zorder=3)
ax.bar(idx[~up], (closes - opens)[~up], bottom=opens[~up], width=0.72, color='#e8432b', edgecolor='#701a12', lw=0.8, zorder=3)
ax.axhline(line_price, color='#ff9800', lw=1.5, zorder=4)

for s in ax.spines.values():
    s.set_visible(False)
ax.yaxis.tick_right()
ax.set_yticks(price_ticks)
ax.set_yticklabels(['%.2f' % p for p in price_ticks])
ax.tick_params(axis='y', length=0, pad=7, labelsize=8.6, labelcolor='#505050')

tick_pos, tick_txt = [], []
for d in range(len(day_labels)):
    if day_labels[d]:
        tick_pos.append(d * bars_per_day)
        tick_txt.append(day_labels[d])
    if d < len(days):
        tick_pos.append(d * bars_per_day + 30)
        tick_txt.append('12:00 PM')
ax.set_xticks(tick_pos)
ax.set_xticklabels(tick_txt, family=small_font)
ax.tick_params(axis='x', length=0, pad=5, labelsize=9, labelcolor='#505050')
for lab in ax.get_xticklabels():
    if lab.get_text() in bold_days:
        lab.set_family('DejaVu Sans')
        lab.set_fontweight('bold')
        lab.set_fontsize(8.4)

# drawings and chrome sit in a pixel overlay
over = fig.add_axes([0, 0, 1, 1], zorder=5)
over.set_xlim(0, W)
over.set_ylim(H, 0)
over.axis('off')
over.patch.set_alpha(0)

over.plot([px_right, px_right], [px_top, 1373], color='#787b86', lw=1)
over.plot([px_left, 2455], [px_bot, px_bot], color='#787b86', lw=1)

for cx, cy in [(129, 332), (352.7, 334), (645, 332), (1426, 329)]:
    over.add_patch(Wedge((cx, cy), 38, 0, 360, width=14.5, fc='#ff9800', alpha=0.11, lw=0))
    over.add_patch(Circle((cx, cy), 38, fc='none', ec='#ffdcae', lw=0.9))
    over.add_patch(Wedge((cx, cy), 23.5, 0, 360, width=9, fc='#ff7043', alpha=0.16, lw=0))
    over.add_patch(Circle((cx, cy), 23.5, fc='none', ec='#f5b79c', lw=0.9))

tail_fc, tail_ec = '#ececee', '#b2b5be'
over.add_patch(Polygon([(1214, 96), (393, 318), (1222, 105)], fc=tail_fc, ec=tail_ec, lw=0.9))
over.add_patch(Polygon([(1222, 104), (685, 304), (1232, 106)], fc=tail_fc, ec=tail_ec, lw=0.9))
over.add_patch(Polygon([(1293, 98), (1424, 282), (1287, 107)], fc=tail_fc, ec=tail_ec, lw=0.9))
over.add_patch(FancyBboxPatch((1227, 73), 69, 35, boxstyle='round,pad=0,rounding_size=10', fc='#d6d7da', ec=tail_ec, lw=0.8))
over.add_patch(FancyBboxPatch((1224, 70), 59, 25, boxstyle='round,pad=10,rounding_size=10', fc=tail_fc, ec=tail_ec, lw=0.9))
over.text(1254, 82.5, 'PINGs', ha='center', va='center', fontsize=15.5, family='Open Sans', color='#131722')

over.text(11, 16, 'EuroMotif published on TradingView.com, Oct 23, 2024 18:06 UTC-4', ha='left', va='center',
          fontsize=9.1, family=small_font, color='#d1d4dc')
over.text(20, 46, 'AVGO, 5, NASDAQ, Heikin Ashi', ha='left', va='center', fontsize=9.1, family=small_font, color='#555555')
over.text(2387, 316, '(184.47)', ha='right', va='center', fontsize=9, fontweight='bold', family='DejaVu Sans', color='#ff9800')

# footer logo
over.add_patch(Polygon([(11, 1387), (22, 1387), (22, 1398), (16.5, 1398), (16.5, 1392), (11, 1392)], fc='#d1d4dc', lw=0))
over.add_patch(Circle((25.5, 1389.5), 2.5, fc='#d1d4dc', lw=0))
over.add_patch(Polygon([(28, 1387), (33, 1387), (28, 1398), (22.5, 1398)], fc='#d1d4dc', lw=0))
over.text(37, 1393, 'TradingView', ha='left', va='center', fontsize=9.9, family=small_font, color='#d1d4dc')

fig.savefig('out.png', dpi=100, facecolor=fig.get_facecolor())
